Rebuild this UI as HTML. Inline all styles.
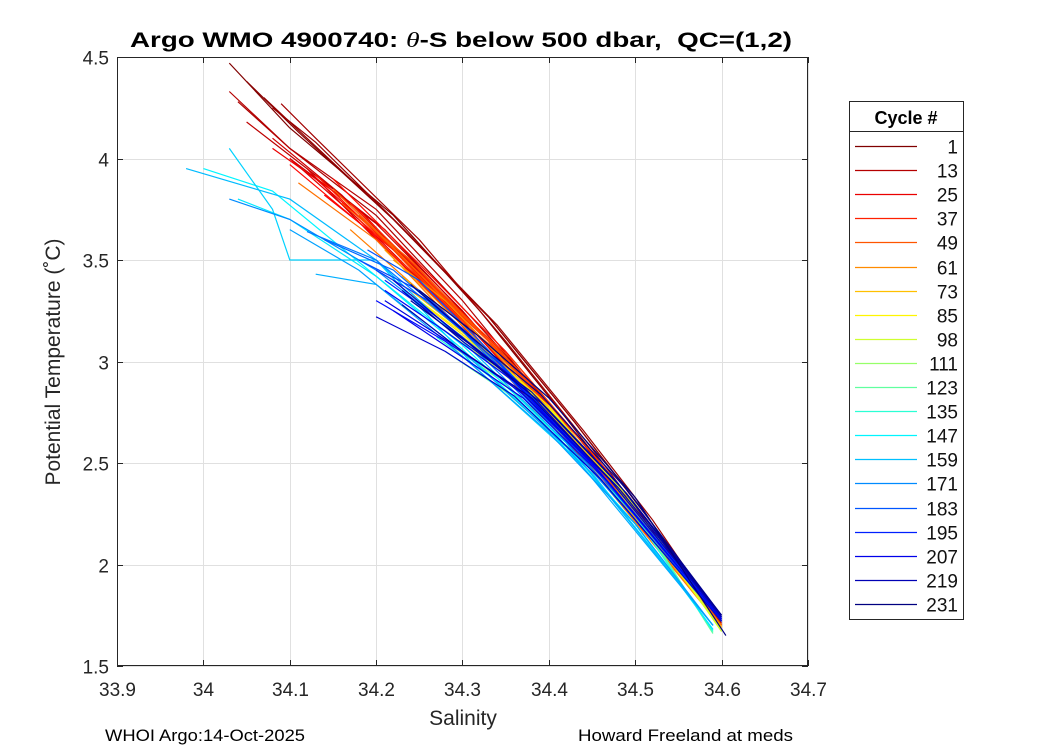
<!DOCTYPE html>
<html><head><meta charset="utf-8"><style>
body{margin:0;background:#fff;}
svg text{font-family:"Liberation Sans","DejaVu Sans",sans-serif;}
</style></head><body>
<svg id="chart" width="1050" height="750" xmlns="http://www.w3.org/2000/svg">
<rect width="1050" height="750" fill="#fff"/>
<g id="grid"></g>
<g id="lines"></g>
<rect x="117.5" y="57.5" width="690" height="608" fill="none" stroke="#262626" stroke-width="1"/>
<g id="ticks"></g>
<text x="130" y="47" font-size="21" font-weight="bold" xml:space="preserve" textLength="662" lengthAdjust="spacingAndGlyphs">Argo WMO 4900740: <tspan font-style="italic" font-weight="normal" font-family="Liberation Serif,serif">θ</tspan>-S below 500 dbar,  QC=(1,2)</text>
<text x="463" y="725" text-anchor="middle" font-size="21" fill="#262626">Salinity</text>
<text transform="translate(60,362) rotate(-90)" text-anchor="middle" font-size="21" fill="#262626">Potential Temperature (˚C)</text>
<text x="105" y="741" font-size="17" textLength="200" lengthAdjust="spacingAndGlyphs">WHOI Argo:14-Oct-2025</text>
<text x="578" y="741" font-size="17" textLength="215" lengthAdjust="spacingAndGlyphs">Howard Freeland at meds</text>
<g id="legend"></g>
</svg>
<script>
const xTicks=[33.9,34,34.1,34.2,34.3,34.4,34.5,34.6,34.7];
const yTicks=[1.5,2,2.5,3,3.5,4,4.5];
const legendCycles=[1,13,25,37,49,61,73,85,98,111,123,135,147,159,171,183,195,207,219,231];
const profCycles=[1,3,5,7,9,11,13,15,17,19,21,23,25,27,29,31,33,35,37,39,41,43,45,47,49,52,55,58,61,64,67,70,73,79,85,92,98,111,123,135,147,150,155,160,163,166,171,175,179,183,186,190,195,200,204,207,210,213,216,219,222,225,228,231];
const profSal=[
[34.03,34.10,34.22,34.32,34.42,34.5,34.6],
[34.05,34.11,34.22,34.33,34.43,34.51,34.6],
[34.07,34.12,34.22,34.33,34.43,34.52,34.6],
[34.08,34.13,34.23,34.34,34.44,34.52,34.6],
[34.09,34.13,34.25,34.35,34.45,34.6],
[34.04,34.1,34.2,34.31,34.42,34.51,34.6],
[34.03,34.1,34.2,34.3,34.4,34.5,34.6],
[34.05,34.12,34.21,34.31,34.41,34.5,34.6],
[34.1,34.2,34.3,34.4,34.5,34.6],
[34.08,34.16,34.26,34.37,34.48,34.6],
[34.12,34.2,34.3,34.4,34.5,34.6],
[34.1,34.18,34.28,34.39,34.5,34.6],
[34.08,34.18,34.28,34.4,34.5,34.6],
[34.13,34.21,34.31,34.41,34.5,34.6],
[34.14,34.22,34.32,34.42,34.5,34.6],
[34.1,34.19,34.29,34.4,34.5,34.6],
[34.15,34.25,34.35,34.45,34.6],
[34.13,34.22,34.32,34.43,34.6],
[34.18,34.26,34.34,34.44,34.6],
[34.17,34.25,34.34,34.44,34.6],
[34.2,34.28,34.36,34.46,34.6],
[34.19,34.27,34.36,34.45,34.6],
[34.22,34.3,34.38,34.46,34.6],
[34.18,34.27,34.35,34.45,34.6],
[34.16,34.24,34.33,34.43,34.6],
[34.15,34.23,34.33,34.43,34.6],
[34.11,34.2,34.3,34.42,34.6],
[34.17,34.25,34.34,34.44,34.6],
[34.22,34.28,34.36,34.45,34.6],
[34.21,34.27,34.36,34.45,34.6],
[34.2,34.26,34.35,34.45,34.6],
[34.23,34.29,34.37,34.46,34.6],
[34.24,34.3,34.38,34.47,34.6],
[34.24,34.31,34.39,34.47,34.6],
[34.25,34.32,34.4,34.48,34.6],
[34.26,34.32,34.4,34.49,34.6],
[34.27,34.33,34.41,34.5,34.6],
[34.28,34.34,34.42,34.5,34.59],
[34.28,34.35,34.43,34.51,34.59],
[34.27,34.34,34.42,34.5,34.59],
[34.0,34.08,34.2,34.3,34.4,34.5,34.59],
[34.04,34.1,34.2,34.3,34.4,34.5,34.59],
[34.03,34.08,34.1,34.2,34.32,34.45,34.59],
[33.98,34.06,34.1,34.2,34.3,34.42,34.59],
[34.13,34.2,34.3,34.42,34.59],
[34.1,34.18,34.28,34.4,34.5,34.59],
[34.03,34.1,34.2,34.3,34.4,34.5,34.6],
[34.12,34.2,34.3,34.4,34.5,34.6],
[34.14,34.22,34.31,34.41,34.5,34.6],
[34.19,34.25,34.32,34.42,34.5,34.6],
[34.18,34.25,34.33,34.43,34.6],
[34.2,34.26,34.34,34.44,34.6],
[34.21,34.27,34.35,34.45,34.6],
[34.2,34.28,34.36,34.46,34.6],
[34.21,34.28,34.36,34.46,34.6],
[34.22,34.29,34.37,34.47,34.6],
[34.21,34.29,34.37,34.47,34.6],
[34.2,34.28,34.36,34.46,34.6],
[34.22,34.29,34.37,34.47,34.6],
[34.23,34.3,34.38,34.48,34.6],
[34.23,34.3,34.38,34.48,34.6],
[34.24,34.31,34.39,34.49,34.6],
[34.24,34.31,34.39,34.49,34.6],
[34.25,34.32,34.4,34.5,34.605]];
const profTemp=[
[4.47,4.15,3.72,3.25,2.72,2.28,1.73],
[4.38,4.13,3.7,3.22,2.7,2.26,1.72],
[4.3,4.1,3.7,3.22,2.7,2.2,1.72],
[4.25,4.08,3.66,3.18,2.66,2.22,1.72],
[4.27,4.1,3.6,3.1,2.57,1.72],
[4.28,4.05,3.72,3.22,2.7,2.22,1.71],
[4.33,4.05,3.75,3.3,2.78,2.25,1.7],
[4.18,3.95,3.65,3.2,2.7,2.25,1.7],
[4.0,3.68,3.25,2.75,2.25,1.7],
[4.1,3.82,3.4,2.88,2.32,1.7],
[3.95,3.6,3.2,2.7,2.23,1.7],
[4.0,3.7,3.28,2.76,2.22,1.7],
[4.05,3.75,3.3,2.75,2.25,1.7],
[3.9,3.6,3.17,2.7,2.25,1.7],
[3.82,3.55,3.12,2.65,2.22,1.7],
[3.97,3.65,3.22,2.7,2.22,1.7],
[3.9,3.48,3.05,2.55,1.7],
[3.92,3.55,3.1,2.6,1.7],
[3.7,3.4,3.06,2.58,1.7],
[3.78,3.45,3.07,2.58,1.7],
[3.6,3.3,2.98,2.5,1.7],
[3.68,3.35,3.0,2.55,1.7],
[3.55,3.2,2.9,2.47,1.7],
[3.72,3.35,3.02,2.52,1.7],
[3.78,3.5,3.1,2.62,1.7],
[3.85,3.52,3.08,2.6,1.7],
[3.88,3.6,3.15,2.65,1.7],
[3.65,3.35,3.0,2.52,1.69],
[3.5,3.3,2.95,2.5,1.69],
[3.55,3.3,2.93,2.5,1.69],
[3.45,3.3,2.95,2.5,1.69],
[3.42,3.2,2.88,2.45,1.69],
[3.35,3.15,2.85,2.43,1.69],
[3.33,3.1,2.8,2.42,1.68],
[3.3,3.08,2.78,2.38,1.68],
[3.25,3.06,2.77,2.34,1.67],
[3.18,3.0,2.72,2.3,1.67],
[3.1,2.92,2.62,2.25,1.67],
[3.05,2.85,2.55,2.2,1.66],
[3.12,2.9,2.6,2.24,1.67],
[3.95,3.84,3.42,3.08,2.68,2.2,1.68],
[3.8,3.7,3.42,3.06,2.66,2.2,1.68],
[4.05,3.75,3.5,3.5,2.95,2.45,1.7],
[3.95,3.85,3.8,3.5,3.1,2.6,1.7],
[3.43,3.38,3.05,2.58,1.7],
[3.65,3.45,3.1,2.65,2.2,1.7],
[3.8,3.7,3.45,3.12,2.7,2.22,1.72],
[3.64,3.5,3.15,2.72,2.22,1.72],
[3.6,3.45,3.12,2.68,2.24,1.72],
[3.55,3.4,3.1,2.65,2.25,1.74],
[3.5,3.35,3.05,2.6,1.73],
[3.45,3.3,3.0,2.55,1.72],
[3.4,3.22,2.95,2.5,1.73],
[3.3,3.1,2.88,2.45,1.73],
[3.35,3.15,2.9,2.45,1.73],
[3.25,3.05,2.82,2.4,1.73],
[3.3,3.08,2.84,2.42,1.74],
[3.22,3.05,2.83,2.42,1.72],
[3.4,3.15,2.88,2.42,1.74],
[3.35,3.1,2.85,2.4,1.74],
[3.28,3.05,2.82,2.38,1.75],
[3.3,3.08,2.8,2.35,1.75],
[3.38,3.12,2.84,2.37,1.75],
[3.35,3.12,2.82,2.33,1.65]];
const NS="http://www.w3.org/2000/svg";
const X0=117,X1=808,Y0=666,Y1=57;
function xs(s){return X0+(s-33.9)/(34.7-33.9)*(X1-X0);}
function ys(t){return Y0-(t-1.5)/(4.5-1.5)*(Y0-Y1);}
function jet(v){const r=Math.min(4*v-1.5,-4*v+4.5),g=Math.min(4*v-0.5,-4*v+3.5),b=Math.min(4*v+0.5,-4*v+2.5);
const c=x=>Math.round(255*Math.max(0,Math.min(1,x)));return `rgb(${c(r)},${c(g)},${c(b)})`;}
function cyc(c){return jet(1-(c-1)/230);}
function mk(tag,attrs,parent){const e=document.createElementNS(NS,tag);for(const k in attrs)e.setAttribute(k,attrs[k]);parent.appendChild(e);return e;}
const grid=document.getElementById('grid'),ticks=document.getElementById('ticks');
xTicks.forEach(v=>{const x=Math.round(xs(v))+0.5;
const gl=mk('line',{x1:x,x2:x,y1:Y1,y2:Y0,stroke:'#e0e0e0','stroke-width':1},grid);


mk('line',{x1:x,x2:x,y1:Y0,y2:Y0-6,stroke:'#262626'},ticks);
mk('line',{x1:x,x2:x,y1:Y1,y2:Y1+6,stroke:'#262626'},ticks);
const t=mk('text',{x:x,y:Y0+30,'text-anchor':'middle','font-size':19,fill:'#262626'},ticks);t.textContent=String(v);

});
yTicks.forEach(v=>{const y=Math.round(ys(v))+0.5;
const gl=mk('line',{x1:X0,x2:X1,y1:y,y2:y,stroke:'#e0e0e0','stroke-width':1},grid);


mk('line',{x1:X0,x2:X0+6,y1:y,y2:y,stroke:'#262626'},ticks);
mk('line',{x1:X1,x2:X1-6,y1:y,y2:y,stroke:'#262626'},ticks);
const t=mk('text',{x:X0-8,y:y+7,'text-anchor':'end','font-size':19,fill:'#262626'},ticks);t.textContent=String(v);

});
const lines=document.getElementById('lines');
profCycles.forEach((c,i)=>{const pts=profSal[i].map((s,j)=>xs(s).toFixed(1)+','+ys(profTemp[i][j]).toFixed(1)).join(' ');
const p=mk('polyline',{points:pts,fill:'none',stroke:cyc(c),'stroke-width':1.2},lines);

});
const lg=document.getElementById('legend');
mk('rect',{x:849.5,y:101.5,width:114,height:518,fill:'#fff',stroke:'#262626'},lg);
mk('line',{x1:849.5,x2:963.5,y1:131.5,y2:131.5,stroke:'#262626'},lg);
const lt=mk('text',{x:906,y:124,'text-anchor':'middle','font-size':18,'font-weight':'bold'},lg);lt.textContent='Cycle #';


legendCycles.forEach((c,i)=>{const y=Math.round(146+i*24.1)+0.5;
const l=mk('line',{x1:855,x2:917,y1:y,y2:y,stroke:cyc(c),'stroke-width':1.3},lg);


const t=mk('text',{x:958,y:y+7,'text-anchor':'end','font-size':19,fill:'#111'},lg);t.textContent=String(c);

});
</script>
</body></html>
